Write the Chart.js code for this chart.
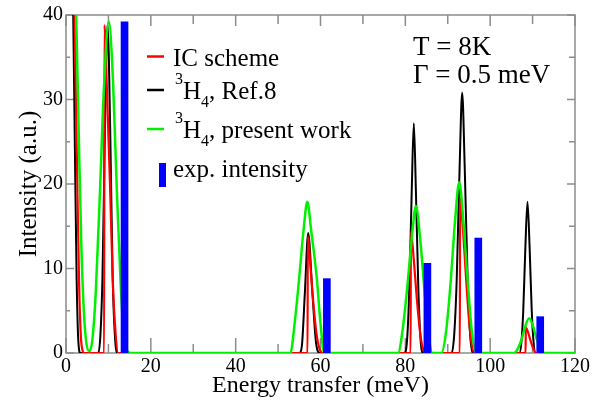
<!DOCTYPE html>
<html>
<head>
<meta charset="utf-8">
<script src="https://cdn.jsdelivr.net/npm/chart.js@4.4.0/dist/chart.umd.min.js"></script>
<style>
html,body{margin:0;padding:0;background:#fff;}
#wrap{width:609px;height:403px;}
</style>
</head>
<body>
<div id="wrap"><canvas id="c" width="609" height="403"></canvas></div>
<script>
// ---- data ----
const xTicks = [0, 20, 40, 60, 80, 100, 120];
const yTicks = [0, 10, 20, 30, 40];

const expEnergy    = [13.8, 61.5, 85.2, 97.2, 111.8];
const expIntensity = [39.2, 8.8, 10.6, 13.6, 4.3];

// IC scheme (red)  [energy, intensity]
const icScheme = [
  [0,85],[1.2,55],[2.0,40],[2.6,22],[3.1,8],[3.5,2],[3.9,0.3],[4.3,0],
  [9.0,0],[9.05,38.8],[9.6,32],[10.4,19.5],[11.0,9],[11.6,3],[12.3,0],
  [56.95,0],[57.0,13.8],[57.6,10.5],[58.3,6],[59.0,2.5],[59.7,0.6],[60.5,0],
  [81.25,0],[81.3,14.3],[82.0,11],[82.7,6.5],[83.4,2.8],[84.0,0.8],[84.7,0],
  [92.85,0],[92.9,18.3],[93.6,14.5],[94.3,9],[95.0,4],[95.6,1.2],[96.3,0],
  [108.35,0],[108.4,3.0],[108.9,2.5],[109.5,1.5],[110.1,0.6],[110.8,0],
  [120,0]
];

// 3H4, Ref.8 (black)
const ref8 = [
  [0,90],[0.8,65],[1.3,50],[1.7,40],[2.1,24],[2.5,9],[2.9,1.5],[3.4,0],
  [7.6,0],[8.1,2],[8.6,9],[9.1,24],[9.5,35],[9.8,38.9],[10.1,35],[10.5,24],[11.0,9],[11.6,1.5],[12.2,0],
  [55.0,0],[55.6,0.8],[56.3,7],[57.1,14.2],[58.1,7],[59.0,1],[59.9,0],
  [79.8,0],[80.4,1.5],[80.9,7],[81.5,19],[82.0,27.2],[82.5,19],[83.1,7],[83.6,1.5],[84.2,0],
  [90.9,0],[91.5,2],[92.1,8.5],[92.8,22],[93.4,30.8],[94.0,22],[94.7,8.5],[95.3,2],[95.9,0],
  [106.9,0],[107.4,1.5],[107.8,5],[108.3,12.5],[108.8,17.9],[109.3,12.5],[109.8,5],[110.2,1.5],[110.7,0],
  [120,0]
];

// 3H4, present work (green)
const presentWork = [
  [0,95],[1.0,62],[2.4,40],[3.0,26],[3.6,13],[4.2,5],[4.8,1.2],[5.5,0.2],[6.2,1.5],[7.0,7],[8.0,19],[9.0,32],[10.1,39.2],[11.1,32],[12.0,19],[12.9,8],[13.6,2.5],[14.4,0.3],[15.2,0],
  [52.9,0],[53.9,3.5],[55.0,9],[56.0,14.5],[56.9,17.9],[57.8,14.5],[59.1,9],[60.0,3.5],[60.9,0],
  [78.3,0],[79.3,2.5],[80.4,7.5],[81.5,13.5],[82.5,17.4],[83.5,13.5],[84.5,7.5],[85.4,2.5],[86.4,0],
  [88.5,0],[89.6,2.5],[90.7,8.5],[91.7,15.5],[92.7,20.2],[93.7,15.5],[94.7,8.5],[95.7,2.5],[96.8,0],
  [105.6,0],[106.5,0.5],[107.4,1.6],[108.3,3.2],[109.2,4.1],[110.1,3.2],[111.0,1.6],[111.9,0.5],[112.8,0],
  [120,0]
];

const FONT = "'Liberation Serif', 'Times New Roman', serif";
const FRAME = '#8c8c8c';
const toXY = arr => arr.map(p => ({x: p[0], y: p[1]}));

// frame + inward ticks, drawn from the library's scales
const framePlugin = {
  id: 'frameTicks',
  beforeDatasetsDraw(chart) {
    const ctx = chart.ctx;
    const {left, right, top, bottom} = chart.chartArea;
    const xs = chart.scales.x, ys = chart.scales.y;
    ctx.save();
    ctx.strokeStyle = FRAME;
    ctx.lineWidth = 1.5;
    ctx.strokeRect(left, top, right - left, bottom - top);
    const seg = (x1, y1, x2, y2) => { ctx.beginPath(); ctx.moveTo(x1, y1); ctx.lineTo(x2, y2); ctx.stroke(); };
    const xt = xs.ticks.map(t => t.value);
    xt.forEach((v, i) => {
      const p = xs.getPixelForValue(v);
      seg(p, bottom, p, bottom - 15);
      seg(p, top, p, top + 11);
      if (i < xt.length - 1) {
        const m = xs.getPixelForValue((v + xt[i + 1]) / 2);
        seg(m, bottom, m, bottom - 9);
        seg(m, top, m, top + 9);
      }
    });
    const yt = ys.ticks.map(t => t.value);
    yt.forEach((v, i) => {
      const p = ys.getPixelForValue(v);
      seg(left, p, left + 8, p);
      seg(right, p, right - 8, p);
      if (i < yt.length - 1) {
        const m = ys.getPixelForValue((v + yt[i + 1]) / 2);
        seg(left, m, left + 4, m);
        seg(right, m, right - 6, m);
      }
    });
    ctx.restore();
  }
};

// legend and annotation text
const legendPlugin = {
  id: 'customLegend',
  afterDraw(chart) {
    const ctx = chart.ctx;
    const ds = chart.data.datasets;
    ctx.save();
    ctx.fillStyle = '#000';
    ctx.textBaseline = 'alphabetic';
    ctx.textAlign = 'left';
    const big = 25, small = 16;
    const lineX1 = 147, lineX2 = 164, textX = 173;
    const sample = (color, y, w) => {
      ctx.strokeStyle = color; ctx.lineWidth = w;
      ctx.beginPath(); ctx.moveTo(lineX1, y); ctx.lineTo(lineX2, y); ctx.stroke();
    };
    const h4Label = (x, base, rest) => {
      ctx.font = small + 'px ' + FONT;
      ctx.fillText('3', x + 2, base - 15);
      const w3 = ctx.measureText('3').width;
      ctx.font = big + 'px ' + FONT;
      ctx.fillText('H', x + 2 + w3, base);
      const wH = ctx.measureText('H').width;
      ctx.font = small + 'px ' + FONT;
      ctx.fillText('4', x + 2 + w3 + wH, base + 8);
      const w4 = ctx.measureText('4').width;
      ctx.font = big + 'px ' + FONT;
      ctx.fillText(rest, x + 2 + w3 + wH + w4, base);
    };
    // row 1
    sample(ds[3].borderColor, 56.5, 2.5);
    ctx.font = big + 'px ' + FONT;
    ctx.fillText(ds[3].label, textX, 66);
    // row 2
    sample(ds[2].borderColor, 90, 2.5);
    h4Label(textX, 99, ', Ref.8');
    // row 3
    sample(ds[1].borderColor, 129, 2.5);
    h4Label(textX, 138, ', present work');
    // row 4
    ctx.fillStyle = ds[0].backgroundColor;
    ctx.fillRect(159, 163, 7, 24);
    ctx.fillStyle = '#000';
    ctx.font = big + 'px ' + FONT;
    ctx.fillText(ds[0].label, textX, 177);
    // annotation
    ctx.font = '27px ' + FONT;
    ctx.fillText('T = 8K', 413, 55);
    ctx.fillText('\u0393 = 0.5 meV', 413, 83);
    ctx.restore();
  }
};

new Chart(document.getElementById('c'), {
  type: 'line',
  data: {
    datasets: [
      { type: 'bar', label: 'exp. intensity',
        data: expEnergy.map((x, i) => ({x: x, y: expIntensity[i]})),
        backgroundColor: '#0000ff', borderWidth: 0, barThickness: 7, order: 0 },
      { label: '3H4, present work', data: toXY(presentWork), borderColor: '#00f000',
        borderWidth: 2.5, pointRadius: 0, fill: false, cubicInterpolationMode: 'monotone', order: 1 },
      { label: '3H4, Ref.8', data: toXY(ref8), borderColor: '#000000',
        borderWidth: 2, pointRadius: 0, fill: false, cubicInterpolationMode: 'monotone', order: 3 },
      { label: 'IC scheme', data: toXY(icScheme), borderColor: '#ff0000',
        borderWidth: 2.2, pointRadius: 0, fill: false, cubicInterpolationMode: 'monotone', order: 2 }
    ]
  },
  options: {
    responsive: false,
    animation: false,
    devicePixelRatio: 1,
    layout: { padding: { top: 14, right: 34, left: 0, bottom: 0 } },
    plugins: { legend: { display: false }, tooltip: { enabled: false } },
    scales: {
      x: {
        type: 'linear', min: 0, max: 120, offset: false,
        afterBuildTicks: s => { s.ticks = xTicks.map(v => ({value: v})); },
        afterFit: s => { s.height = 50; },
        grid: { display: false, drawTicks: false },
        border: { display: false },
        ticks: { color: '#000', font: { family: FONT, size: 20 }, padding: 2, maxRotation: 0 },
        title: { display: true, text: 'Energy transfer (meV)', color: '#000',
                 font: { family: FONT, size: 24 }, padding: { top: 0, bottom: 3 } }
      },
      y: {
        type: 'linear', min: 0, max: 40,
        afterBuildTicks: s => { s.ticks = yTicks.map(v => ({value: v})); },
        afterFit: s => { s.width = 66; },
        grid: { display: false, drawTicks: false },
        border: { display: false },
        ticks: { color: '#000', font: { family: FONT, size: 20 }, padding: 3 },
        title: { display: true, text: 'Intensity (a.u.)', color: '#000',
                 font: { family: FONT, size: 25 }, padding: { top: 14, bottom: 0 } }
      }
    }
  },
  plugins: [framePlugin, legendPlugin]
});
</script>
</body>
</html>
